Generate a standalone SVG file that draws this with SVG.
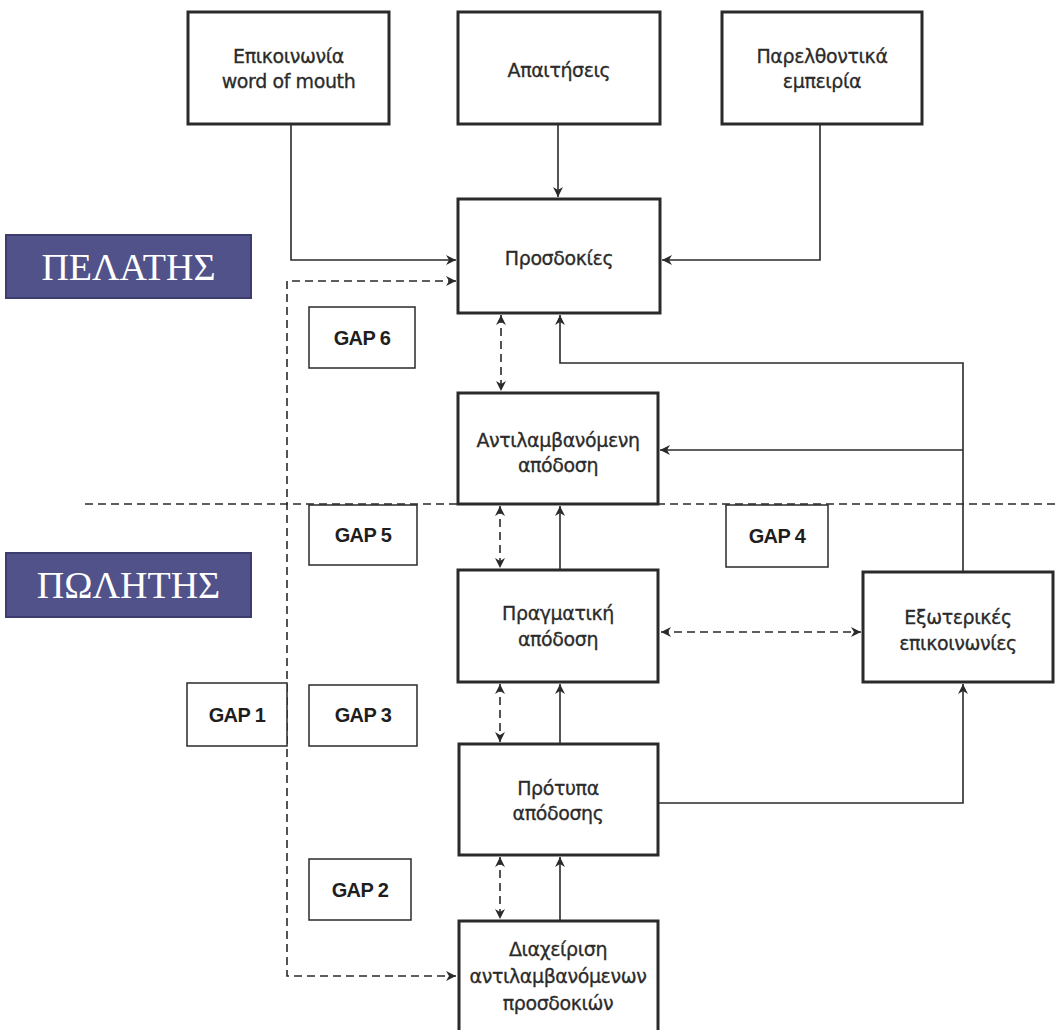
<svg xmlns="http://www.w3.org/2000/svg" width="1056" height="1030" viewBox="0 0 1056 1030">
<defs>
<marker id="ah" viewBox="0 0 10 10" refX="10" refY="5" markerWidth="10" markerHeight="10" markerUnits="userSpaceOnUse" orient="auto-start-reverse">
<path d="M0,0 L10,5 L0,10 L3,5 Z" fill="#2a2a2a"/>
</marker>
<style>
.box{fill:#fff;stroke:#2a2a2a;stroke-width:3}
.gap{fill:#fff;stroke:#2a2a2a;stroke-width:1.5}
.t{font-family:"DejaVu Sans","Liberation Sans",sans-serif;font-size:19px;fill:#2b2b2b;text-anchor:middle;letter-spacing:-0.4px;stroke:#2b2b2b;stroke-width:0.3}
.g{font-family:"Liberation Sans",sans-serif;font-size:20px;font-weight:bold;fill:#1e1e1e;text-anchor:middle;letter-spacing:-0.6px}
.lab{fill:#51528a;stroke:#3c3d6c;stroke-width:2}
.lt{font-family:"Liberation Serif",serif;font-size:38px;fill:#fff;text-anchor:middle}
.s{fill:none;stroke:#2a2a2a;stroke-width:1.6}
.d{fill:none;stroke:#2a2a2a;stroke-width:1.6;stroke-dasharray:8,5}
</style>
</defs>
<g id="connectors">
<line class="d" x1="85" y1="504" x2="1056" y2="504"/>
<polyline class="s" points="291,124 291,260 456,260" marker-end="url(#ah)"/>
<line class="s" x1="558" y1="124" x2="558" y2="197" marker-end="url(#ah)"/>
<polyline class="s" points="820,124 820,260 662,260" marker-end="url(#ah)"/>
<polyline class="d" points="456,281 287,281 287,976 456,976" marker-start="url(#ah)" marker-end="url(#ah)"/>
<line class="d" x1="501" y1="315" x2="501" y2="391" marker-start="url(#ah)" marker-end="url(#ah)"/>
<polyline class="s" points="963,571 963,363 560,363 560,315" marker-end="url(#ah)"/>
<line class="s" x1="963" y1="450" x2="660" y2="450" marker-end="url(#ah)"/>
<line class="d" x1="500" y1="506" x2="500" y2="568" marker-start="url(#ah)" marker-end="url(#ah)"/>
<line class="s" x1="560" y1="570" x2="560" y2="506" marker-end="url(#ah)"/>
<line class="d" x1="661" y1="632" x2="861" y2="632" marker-start="url(#ah)" marker-end="url(#ah)"/>
<line class="d" x1="500" y1="684" x2="500" y2="742" marker-start="url(#ah)" marker-end="url(#ah)"/>
<line class="s" x1="560" y1="744" x2="560" y2="684" marker-end="url(#ah)"/>
<polyline class="s" points="659,803 963,803 963,684" marker-end="url(#ah)"/>
<line class="d" x1="500" y1="857" x2="500" y2="919" marker-start="url(#ah)" marker-end="url(#ah)"/>
<line class="s" x1="560" y1="921" x2="560" y2="857" marker-end="url(#ah)"/>
</g>
<g id="pelatis"><rect class="lab" x="6" y="235" width="245" height="63"/><text class="lt" x="128.5" y="280">ΠΕΛΑΤΗΣ</text></g>
<g id="politis"><rect class="lab" x="6" y="553" width="245" height="64"/><text class="lt" x="128.5" y="598">ΠΩΛΗΤΗΣ</text></g>
<g id="wom"><rect class="box" x="188" y="12" width="201" height="112"/><text class="t" x="288.5" y="63">Επικοινωνία</text><text class="t" x="288.5" y="88">word of mouth</text></g>
<g id="apaitiseis"><rect class="box" x="458" y="12" width="202" height="112"/><text class="t" x="559" y="77">Απαιτήσεις</text></g>
<g id="emp"><rect class="box" x="722" y="12" width="200" height="112"/><text class="t" x="822" y="63">Παρελθοντικά</text><text class="t" x="822" y="88">εμπειρία</text></g>
<g id="prosdokies"><rect class="box" x="458" y="199" width="202" height="114"/><text class="t" x="559" y="265">Προσδοκίες</text></g>
<g id="antil"><rect class="box" x="458" y="393" width="200" height="111"/><text class="t" x="558" y="447">Αντιλαμβανόμενη</text><text class="t" x="558" y="472">απόδοση</text></g>
<g id="pragm"><rect class="box" x="458" y="570" width="200" height="112"/><text class="t" x="558" y="620">Πραγματική</text><text class="t" x="558" y="646">απόδοση</text></g>
<g id="exot"><rect class="box" x="863" y="572" width="190" height="110"/><text class="t" x="958" y="624">Εξωτερικές</text><text class="t" x="958" y="650">επικοινωνίες</text></g>
<g id="protypa"><rect class="box" x="459" y="744" width="199" height="111"/><text class="t" x="558" y="795">Πρότυπα</text><text class="t" x="558" y="820">απόδοσης</text></g>
<g id="diax"><rect class="box" x="459" y="921" width="199" height="118"/><text class="t" x="558" y="956">Διαχείριση</text><text class="t" x="558" y="983">αντιλαμβανόμενων</text><text class="t" x="558" y="1010">προσδοκιών</text></g>
<g id="gap6"><rect class="gap" x="309" y="307" width="106" height="61"/><text class="g" x="362" y="345">GAP 6</text></g>
<g id="gap5"><rect class="gap" x="309" y="505" width="108" height="60"/><text class="g" x="363" y="542">GAP 5</text></g>
<g id="gap4"><rect class="gap" x="726" y="505" width="102" height="62"/><text class="g" x="777" y="543">GAP 4</text></g>
<g id="gap1"><rect class="gap" x="187" y="683" width="100" height="63"/><text class="g" x="237" y="722">GAP 1</text></g>
<g id="gap3"><rect class="gap" x="309" y="685" width="108" height="61"/><text class="g" x="363" y="722">GAP 3</text></g>
<g id="gap2"><rect class="gap" x="309" y="859" width="102" height="61"/><text class="g" x="360" y="897">GAP 2</text></g>
</svg>
